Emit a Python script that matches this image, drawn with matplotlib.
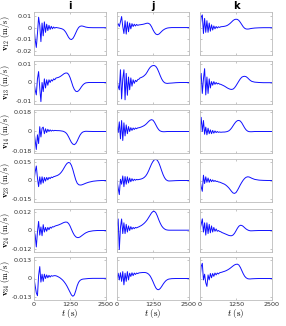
import numpy as np
import matplotlib.pyplot as plt

plt.rcParams['mathtext.fontset'] = 'cm'
plt.rcParams['axes.unicode_minus'] = False

# sample times (s)
t = [0, 40, 80, 120, 160, 200, 240, 280, 320, 360, 400, 440, 480, 520, 560, 600,
     640, 680, 720, 760,
     800, 850, 900, 950, 1000, 1050, 1100, 1150, 1200, 1250, 1300, 1350, 1400, 1450,
     1500, 1550, 1600, 1650, 1700, 1750, 1800, 1900, 2050, 2200, 2350, 2500]

# velocities in mm/s, one list per panel (row = pair, column = case i/j/k)
v12_i = [0, -10, -17, -5, 9, 2, -12, 4, -7, 5, -4, 3, -2.5, 2, -1.5, 1.2, -1, 0.6, -0.4, 0.2,
         0, -0.2, -0.5, -0.8, -1.3, -2.2, -3.8, -6, -8.3, -9.8, -10.2, -9.3, -7.2, -4.5,
         -1.8, 0.2, 1.2, 1.5, 1.3, 0.9, 0.5, 0.1, 0, 0, 0, 0]
v12_j = [2.5, 3.4, 1, 5, 9.6, 1, -5, 6, -5.5, 5, -3.5, 4, -1, 3.5, 1, 3, 1.5, 2.8, 2, 2.4,
         2.5, 2.7, 2.9, 3.2, 3.6, 3.9, 3.7, 2.8, 0.8, -1.8, -4, -5.5, -6, -5.6,
         -4.5, -3.2, -2.1, -1.3, -0.7, -0.3, -0.1, 0.1, 0.1, 0.1, 0.1, 0.1]
v12_k = [0, 9, 11, -5, 8, -4, 6, -4, 4, -3, 2.5, -2, 1.5, -1, 1, -0.3, 0.8, 0.2, 0.8, 0.9,
         1, 1.2, 1.5, 2, 2.8, 3.8, 5, 6.2, 7, 7.3, 7.1, 6.2, 4.6, 2.7,
         0.8, -0.5, -1.1, -1.2, -1.1, -0.8, -0.6, -0.3, -0.1, 0, 0, 0]

v13_i = [0, -4, -6.8, 2, 6, -3, -10.5, 0, -5, 2, -3, 1.5, -1.5, 1.5, 0, 1.5, 0.8, 2, 1.5, 2.4,
         2.6, 2.8, 3.2, 3.7, 4.3, 4.9, 5.2, 5.2, 4.5, 2.8, 0.5, -2, -3.8, -4.8,
         -5, -4.5, -3.5, -2.3, -1.3, -0.6, -0.2, 0, 0, 0, 0, 0]
v13_j = [1, -2, -4, 7, -9, 2, 7, -9.5, 5, -7, 3, -4, 2.5, -2, 1.5, -0.5, 1.2, 0.5, 1.6, 1.8,
         2.5, 2.8, 3.2, 3.8, 4.6, 5.8, 7.2, 8.3, 9, 9.3, 9.3, 8.8, 7.6, 5.8,
         3.8, 2, 0.7, -0.1, -0.4, -0.5, -0.4, -0.3, -0.1, 0, 0, 0]
v13_k = [2, 5, -6, 2, 7.6, -6.8, 3, -6, 2, -3, 0.5, -1.5, 0.5, -1, 0, -0.8, -0.4, -0.9, -1, -1.3,
         -1.6, -2, -2.5, -3, -3.4, -3.7, -3.8, -3.6, -2.9, -1.8, -0.5, 0.8, 2, 2.9,
         3.3, 3.4, 3.2, 2.6, 1.8, 1.1, 0.6, 0.2, 0, -0.1, -0.1, -0.1]

v14_i = [0, -8, -16.4, -3, -11, 4.4, -5, 3, 4, -2, 2.5, -1, 2, 0, 1.5, 0.3, 1.2, 0.6, 1, 0.9,
         0.8, 0.8, 0.7, 0.5, 0.3, -0.2, -1, -2.5, -4.8, -7.5, -10, -11.5, -12, -11,
         -8.7, -5.8, -3.2, -1.4, -0.4, 0, 0.2, 0.1, 0, 0, 0, 0]
v14_j = [4, -1, 8.8, -6.7, 10, -8.2, 7.9, -4, 6, -2, 4.5, 0, 3.5, 1, 3.2, 1.8, 3.2, 2.5, 3.3, 3.4,
         3.7, 4.2, 4.8, 5.5, 6.5, 7.8, 9.2, 10.3, 10.8, 10.3, 8.5, 6, 3.5, 1.6,
         0.5, 0, -0.2, -0.2, -0.1, 0, 0, 0, 0, 0, 0, 0]
v14_k = [0, 12.9, 0, 10, -2.5, 4, -3, 3, -2, 1.5, -2, 1, -1.5, 0.5, -1, 0, -0.8, -0.4, -0.7, -0.6,
         -0.5, -0.5, -0.3, 0, 0.6, 1.7, 3.3, 5.3, 7.3, 8.9, 9.9, 10.1, 9.5, 7.9,
         5.6, 3.3, 1.5, 0.4, -0.1, -0.2, -0.2, 0, 0, 0, 0, 0]

v23_i = [0, 7, 11.8, 2, -5, 3, -3, 3, -2, 2.5, -0.5, 2.5, 0.5, 2.5, 1.5, 2.8, 2.3, 3.1, 3.3, 3.7,
         4, 4.6, 5.5, 6.8, 8.5, 10.5, 12.5, 14, 14.7, 14.3, 12.3, 8.8, 4.5, 0.5,
         -2.2, -3.4, -3.7, -3.6, -3.2, -2.7, -2.2, -1.4, -0.6, -0.2, 0, 0]
v23_j = [0, -6, -11.5, 1, -3, 3.7, -5, 3.2, -3, 3, -2, 2, -1, 1.5, -0.3, 1, 0.2, 0.9, 0.6, 0.8,
         1, 1.3, 1.8, 2.6, 3.8, 5.6, 8, 10.8, 13.5, 15.6, 16.9, 17.2, 16.5, 14.5,
         11.5, 8, 4.8, 2.3, 0.7, -0.1, -0.4, -0.3, -0.1, 0, 0, 0]
v23_k = [0, -5, -8.8, 4.3, -2.5, 3, -1.5, 2, -1.5, 1, -1, 0.5, -0.8, 0, -0.8, -0.6, -1.2, -1.3, -1.7, -2.1,
         -2.5, -3, -3.8, -4.8, -6, -7.5, -9, -10.2, -10.5, -9.8, -8, -5.8, -3.5, -1.5,
         0.3, 1.7, 2.6, 3, 2.9, 2.4, 1.8, 0.9, 0.3, 0.1, 0, 0]

v24_i = [0, -3, -10.7, -1, 5.9, -3, 2.3, -3.4, 3.8, -1, 2, -0.5, 2, 0.5, 2.2, 1.5, 2.5, 2.3, 2.8, 3.1,
         3.3, 3.6, 4, 4.4, 4.9, 5.3, 5.5, 5.4, 4.6, 3, 0.8, -1.3, -3, -4.1,
         -4.6, -4.6, -4.2, -3.5, -2.8, -2.1, -1.5, -0.7, -0.2, 0, 0, 0]
v24_j = [3, 7.5, -12.4, 2, 7.5, -2, 5, -2, 4, -1, 3, 0, 2.5, 0.8, 2, 1.2, 2, 1.7, 2.1, 2.4,
         2.8, 3.3, 4, 4.8, 5.8, 7, 8.5, 10, 11.5, 12.4, 12.5, 11.5, 9.5, 7,
         4.8, 3, 1.8, 1, 0.5, 0.3, 0.2, 0.2, 0.2, 0.2, 0.2, 0.2]
v24_k = [1, 4, 7.6, -1, 5, -3, 5, -2, 4, -1.5, 3, -1, 2, -0.5, 1, -0.5, 0, -0.6, -0.8, -1.3,
         -1.6, -2, -2.4, -2.8, -3.2, -3.4, -3.4, -2.9, -1.8, -0.2, 1.5, 2.8, 3.4, 3.3,
         2.7, 1.8, 1, 0.4, 0, -0.2, -0.2, -0.1, 0, 0, 0, 0]

v34_i = [0, -5, -10, -12, 2, 8.3, -2.5, 3, -2, 3, 0, 2.5, 0.5, 2.2, 1, 2, 1.6, 1.9, 2, 1.9,
         1.6, 1.1, 0.5, -0.3, -1.2, -2.4, -3.8, -5.5, -7.5, -9.5, -11.5, -12.4, -11.5, -8.5,
         -5, -2.6, -1.3, -0.7, -0.4, -0.3, -0.2, 0, 0.1, 0.1, 0.1, 0.1]
v34_j = [0, 3.7, -1, 4, -2, 4.8, -4.4, 3.7, -2, 4.8, -1, 3.7, 1.4, 4, 2, 3.8, 2.8, 3.8, 3.4, 3.9,
         4, 4.1, 4.2, 4.2, 4.1, 3.7, 3, 1.8, 0, -2.2, -4.6, -6.6, -7.7, -7.8,
         -7, -5.6, -4, -2.6, -1.5, -0.8, -0.4, -0.1, 0, 0, 0, 0]
v34_k = [0, 8.3, 10.6, -1, 3, -3, -5.5, 2.5, -1, 3.5, 0.5, 3.5, 1.5, 3.8, 2.5, 3.8, 3.2, 4, 4.2, 4.4,
         4.7, 5, 5.4, 5.9, 6.5, 7.2, 8, 8.8, 9.5, 9.9, 10, 9.4, 7.8, 5.6,
         3.4, 1.6, 0.5, -0.1, -0.3, -0.3, -0.2, -0.1, 0, 0, 0, 0]

pairs = ['12', '13', '14', '23', '24', '34']
series = [[v12_i, v12_j, v12_k], [v13_i, v13_j, v13_k], [v14_i, v14_j, v14_k],
          [v23_i, v23_j, v23_k], [v24_i, v24_j, v24_k], [v34_i, v34_j, v34_k]]
cases = ['i', 'j', 'k']
ylims = [(-0.0235, 0.0135), (-0.0118, 0.0118), (-0.0196, 0.0196),
         (-0.0175, 0.0175), (-0.014, 0.014), (-0.015, 0.015)]
yticks = [[-0.02, -0.01, 0, 0.01], [-0.01, 0, 0.01], [-0.018, 0, 0.018],
          [-0.015, 0, 0.015], [-0.012, 0, 0.012], [-0.013, 0, 0.013]]
xticks = [0, 1250, 2500]

W, H = 286, 326
fig = plt.figure(figsize=(W / 100, H / 100), dpi=100)

col_left = [34, 117, 200]
row_top = [12, 61, 110, 159, 209, 257]
aw, ah = 72, 43
frame = '#bdbdbd'

for r in range(6):
    for c in range(3):
        ax = fig.add_axes([col_left[c] / W, 1 - (row_top[r] + ah) / H, aw / W, ah / H])
        ax.plot(t, np.array(series[r][c]) * 1e-3, color='#1010ff', lw=0.7)
        ax.set_xlim(0, 2500)
        ax.set_ylim(*ylims[r])
        ax.set_xticks(xticks)
        ax.set_yticks(yticks[r])
        ax.tick_params(direction='in', length=1.5, width=0.4, color='#999999',
                       labelsize=4.6, pad=1.5, top=True, right=True, labelcolor='#333333')
        for s in ax.spines.values():
            s.set_color(frame)
            s.set_linewidth(0.6)
        if c == 0:
            ax.set_yticklabels([f'{v:g}' for v in yticks[r]])
            ax.set_ylabel(r'$\mathbf{v}_{%s}\ (\mathrm{m/s})$' % pairs[r], fontsize=6)
            ax.yaxis.set_label_coords(-0.30, 0.5)
        else:
            ax.set_yticklabels([])
        if r == 5:
            ax.set_xticklabels([str(v) for v in xticks])
            ax.set_xlabel(r'$t\ (\mathrm{s})$', fontsize=6.5, labelpad=0)
        else:
            ax.set_xticklabels([])
        if r == 0:
            ax.set_title(cases[c], fontsize=7, fontweight='bold', pad=2)

fig.savefig('out.png', dpi=100)
